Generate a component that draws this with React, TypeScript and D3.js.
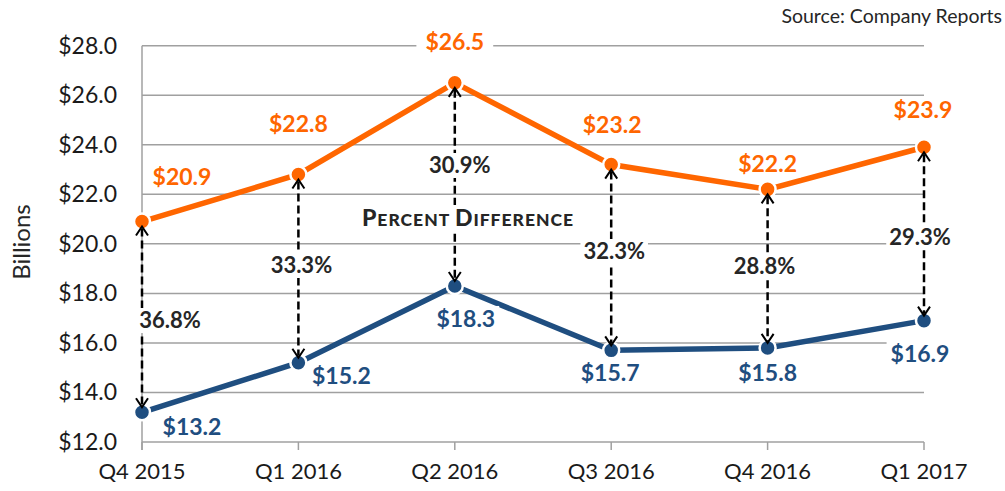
import React, { useEffect, useRef } from "react";
import * as d3 from "d3";

const categories = ["Q4 2015", "Q1 2016", "Q2 2016", "Q3 2016", "Q4 2016", "Q1 2017"];
const topSeries = [20.9, 22.8, 26.5, 23.2, 22.2, 23.9];
const bottomSeries = [13.2, 15.2, 18.3, 15.7, 15.8, 16.9];
const percentDiff = [36.8, 33.3, 30.9, 32.3, 28.8, 29.3];
const yTicks = [12, 14, 16, 18, 20, 22, 24, 26, 28];

// layout (pixel offsets for labels)
const topLabelOffsets = [[40, -37], [0, -42], [0, -33], [1, -32], [0, -17], [-1, -29]];
const bottomLabelOffsets = [[50, 23], [43, 21], [11, 41], [-1, 31], [0, 33], [-4, 41]];
const pctLabelPos = [[28, 328], [3, 273], [5, 173], [3, 259], [-3, 274], [-4, 245]];

const ORANGE = "#FF6600";
const BLUE = "#1F4E80";
const GRID = "#A0A0A0";
const FONT = "Lato, 'Open Sans', sans-serif";

export default function App() {
  const ref = useRef<SVGSVGElement>(null);

  useEffect(() => {
    document.body.style.margin = "0";
    const svg = d3.select(ref.current);
    svg.selectAll("*").remove();

    const x = d3.scalePoint<string>().domain(categories).range([142, 924]);
    const y = d3.scaleLinear().domain([12, 28]).range([442, 45.7]);

    // gridlines
    const grid = svg.append("g");
    grid.selectAll("line.g").data(yTicks).enter().append("line")
      .attr("x1", 142).attr("x2", 924)
      .attr("y1", (d) => y(d)).attr("y2", (d) => y(d))
      .attr("stroke", GRID).attr("stroke-width", 1.5);
    // left axis line
    grid.append("line").attr("x1", 142).attr("x2", 142).attr("y1", y(28)).attr("y2", y(12) + 8)
      .attr("stroke", GRID).attr("stroke-width", 1.5);
    // x ticks
    grid.selectAll("line.t").data(categories).enter().append("line")
      .attr("x1", (d) => x(d)!).attr("x2", (d) => x(d)!)
      .attr("y1", y(12)).attr("y2", y(12) + 8)
      .attr("stroke", GRID).attr("stroke-width", 1.5);

    // y tick labels
    svg.append("g").selectAll("text").data(yTicks).enter().append("text")
      .attr("x", 117).attr("y", (d) => y(d) + 8)
      .attr("text-anchor", "end").attr("font-family", FONT).attr("font-size", 23)
      .attr("fill", "#1a1a1a")
      .text((d) => "$" + d.toFixed(1));

    // x labels
    svg.append("g").selectAll("text").data(categories).enter().append("text")
      .attr("x", (d) => x(d)!).attr("y", 479)
      .attr("text-anchor", "middle").attr("font-family", FONT).attr("font-size", 22)
      .attr("fill", "#1a1a1a")
      .text((d) => d);

    // y axis title
    svg.append("text")
      .attr("transform", "translate(30,242) rotate(-90)")
      .attr("text-anchor", "middle").attr("font-family", FONT).attr("font-size", 24)
      .attr("fill", "#262626").text("Billions");

    // source
    svg.append("text").attr("x", 1002).attr("y", 23).attr("text-anchor", "end")
      .attr("font-family", FONT).attr("font-size", 19.5).attr("fill", "#262626")
      .text("Source: Company Reports");

    // lines
    const line = d3.line<number>().x((_, i) => x(categories[i])!).y((d) => y(d));
    svg.append("path").attr("d", line(topSeries)).attr("fill", "none")
      .attr("stroke", ORANGE).attr("stroke-width", 5.5);
    svg.append("path").attr("d", line(bottomSeries)).attr("fill", "none")
      .attr("stroke", BLUE).attr("stroke-width", 5.5);

    // markers
    const drawMarkers = (vals: number[], color: string) => {
      svg.append("g").selectAll("circle").data(vals).enter().append("circle")
        .attr("cx", (_, i) => x(categories[i])!).attr("cy", (d) => y(d))
        .attr("r", 8).attr("fill", color).attr("stroke", "#fff").attr("stroke-width", 2.5);
    };
    drawMarkers(topSeries, ORANGE);
    drawMarkers(bottomSeries, BLUE);

    // arrows
    const ag = svg.append("g");
    categories.forEach((c, i) => {
      const cx = x(c)!;
      const yTop = y(topSeries[i]) + 5;
      const yBot = y(bottomSeries[i]) - 5;
      ag.append("line").attr("x1", cx).attr("x2", cx).attr("y1", yTop + 2).attr("y2", yBot - 2)
        .attr("stroke", "#000").attr("stroke-width", 2.5).attr("stroke-dasharray", "8,4");
      ag.append("path").attr("d", `M${cx - 6},${yTop + 9}L${cx},${yTop}L${cx + 6},${yTop + 9}`)
        .attr("fill", "none").attr("stroke", "#000").attr("stroke-width", 2);
      ag.append("path").attr("d", `M${cx - 6},${yBot - 9}L${cx},${yBot}L${cx + 6},${yBot - 9}`)
        .attr("fill", "none").attr("stroke", "#000").attr("stroke-width", 2);
    });

    // labels with white background
    const addLabel = (tx: number, ty: number, txt: string, color: string, size: number, pad = 4) => {
      const g = svg.append("g");
      const rect = g.append("rect").attr("fill", "#fff");
      const t = g.append("text").attr("x", tx).attr("y", ty).attr("text-anchor", "middle")
        .attr("font-family", FONT).attr("font-weight", "bold").attr("font-size", size)
        .attr("fill", color).text(txt);
      const bb = (t.node() as SVGTextElement).getBBox();
      rect.attr("x", bb.x - pad).attr("y", bb.y + 2).attr("width", bb.width + 2 * pad).attr("height", bb.height - 2);
    };

    topSeries.forEach((v, i) => {
      const [dx, dy] = topLabelOffsets[i];
      addLabel(x(categories[i])! + dx, y(v) + dy, "$" + v.toFixed(1), ORANGE, 23, i === 2 ? 9 : 4);
    });
    bottomSeries.forEach((v, i) => {
      const [dx, dy] = bottomLabelOffsets[i];
      addLabel(x(categories[i])! + dx, y(v) + dy, "$" + v.toFixed(1), BLUE, 23);
    });
    percentDiff.forEach((v, i) => {
      const [dx, py] = pctLabelPos[i];
      addLabel(x(categories[i])! + dx, py, v.toFixed(1) + "%", "#262626", 22, 3);
    });

    // Percent Difference title (small caps)
    const pg = svg.append("g");
    const prect = pg.append("rect").attr("fill", "#fff");
    const pt = pg.append("text").attr("x", 468).attr("y", 226).attr("text-anchor", "middle")
      .attr("font-family", FONT).attr("font-weight", 900).attr("fill", "#262626")
      .attr("letter-spacing", 1);
    const parts: [string, number][] = [["P", 23], ["ERCENT ", 17.5], ["D", 23], ["IFFERENCE", 17.5]];
    parts.forEach(([s, sz]) => pt.append("tspan").attr("font-size", sz).text(s));
    const pbb = (pt.node() as SVGTextElement).getBBox();
    prect.attr("x", pbb.x - 4).attr("y", pbb.y + 2).attr("width", pbb.width + 8).attr("height", pbb.height - 2);
  }, []);

  return <svg ref={ref} width={1005} height={491} style={{ display: "block", background: "#fff" }} />;
}
